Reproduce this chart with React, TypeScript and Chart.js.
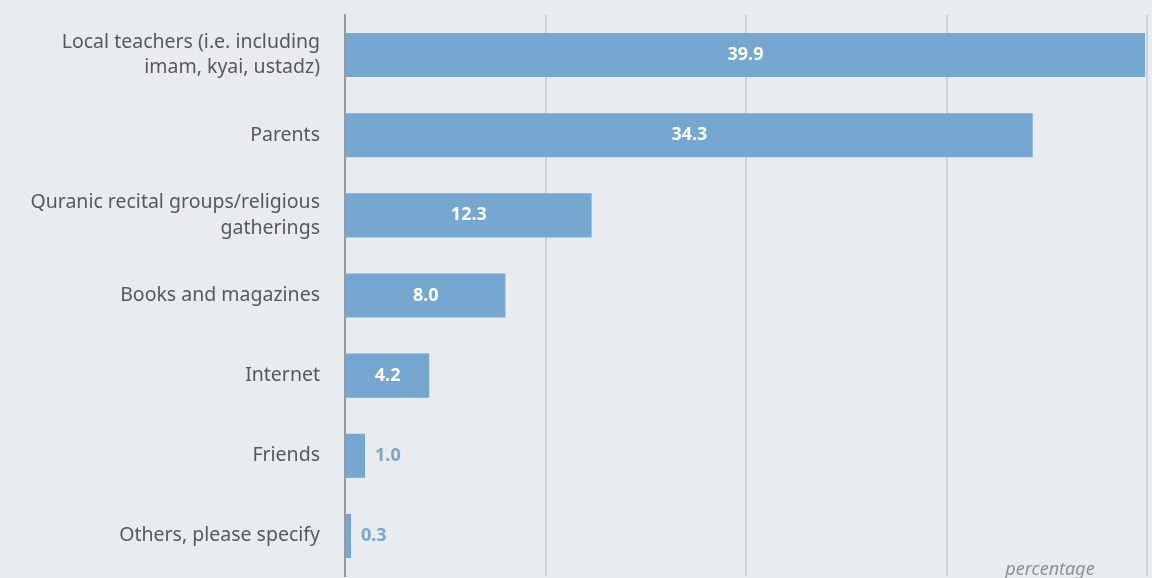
import React, { useEffect, useRef } from "react";
import { Chart, registerables } from "chart.js";

Chart.register(...registerables);

const categories: (string | string[])[] = [
  ["Local teachers (i.e. including", "imam, kyai, ustadz)"],
  "Parents",
  ["Quranic recital groups/religious", "gatherings"],
  "Books and magazines",
  "Internet",
  "Friends",
  "Others, please specify",
];
const values: number[] = [39.9, 34.3, 12.3, 8.0, 4.2, 1.0, 0.3];
const xTicks: number[] = [0, 10, 20, 30, 40];
const axisTitle = "percentage";

const BG = "#e9ecee";
const BAR = "#75a7d0";

export default function App() {
  const ref = useRef<HTMLCanvasElement | null>(null);
  useEffect(() => {
    if (!ref.current) return;
    const valuePlugin = {
      id: "valueLabels",
      beforeDraw(chart: any) {
        const { ctx, width, height } = chart;
        ctx.save();
        ctx.fillStyle = BG;
        ctx.fillRect(0, 0, width, height);
        ctx.restore();
      },
      afterDatasetsDraw(chart: any) {
        const { ctx } = chart;
        const meta = chart.getDatasetMeta(0);
        ctx.save();
        ctx.font = "bold 18px 'Noto Sans'";
        ctx.textBaseline = "middle";
        meta.data.forEach((bar: any, i: number) => {
          const v = values[i];
          const txt = v.toFixed(1);
          const w = bar.x - bar.base;
          if (w > 50) {
            ctx.fillStyle = "#ffffff";
            ctx.textAlign = "center";
            ctx.fillText(txt, (bar.x + bar.base) / 2, bar.y);
          } else {
            ctx.fillStyle = BAR;
            ctx.textAlign = "left";
            ctx.fillText(txt, bar.x + 10, bar.y);
          }
        });
        ctx.font = "italic 18px 'Noto Sans'";
        ctx.fillStyle = "#8d9194";
        ctx.textAlign = "center";
        ctx.textBaseline = "alphabetic";
        ctx.fillText(axisTitle, 1050, 575);
        ctx.restore();
      },
    };
    const chart = new Chart(ref.current, {
      type: "bar",
      data: {
        labels: categories,
        datasets: [
          {
            data: values,
            backgroundColor: BAR,
            barPercentage: 0.55,
            categoryPercentage: 1,
          },
        ],
      },
      options: {
        indexAxis: "y",
        animation: false,
        responsive: true,
        maintainAspectRatio: false,
        layout: { padding: { top: 15, bottom: 2, right: 5, left: 0 } },
        plugins: { legend: { display: false }, tooltip: { enabled: false } },
        scales: {
          x: {
            min: 0,
            max: 40,
            afterBuildTicks: (s: any) => {
              s.ticks = xTicks.map((v) => ({ value: v }));
            },
            afterFit: (s: any) => {
              s.height = 0;
              s.paddingLeft = 0;
              s.paddingRight = 0;
            },
            ticks: { display: false },
            grid: { color: "#cfd2d4", lineWidth: 2, drawTicks: false },
            border: { display: false },
          },
          y: {
            afterFit: (s: any) => {
              s.width = 345;
              s.paddingTop = 0;
              s.paddingBottom = 0;
            },
            ticks: {
              color: "#585858",
              padding: 25,
              font: { family: "'Noto Sans'", size: 19.5, lineHeight: 1.3 },
            },
            grid: { display: false, drawTicks: false },
            border: { color: "#9a9a9a", width: 2 },
          },
        },
      },
      plugins: [valuePlugin],
    });
    return () => chart.destroy();
  }, []);
  return (
    <div style={{ position: "fixed", left: 0, top: 0, width: 1152, height: 578, background: BG }}>
      <canvas ref={ref} />
    </div>
  );
}
